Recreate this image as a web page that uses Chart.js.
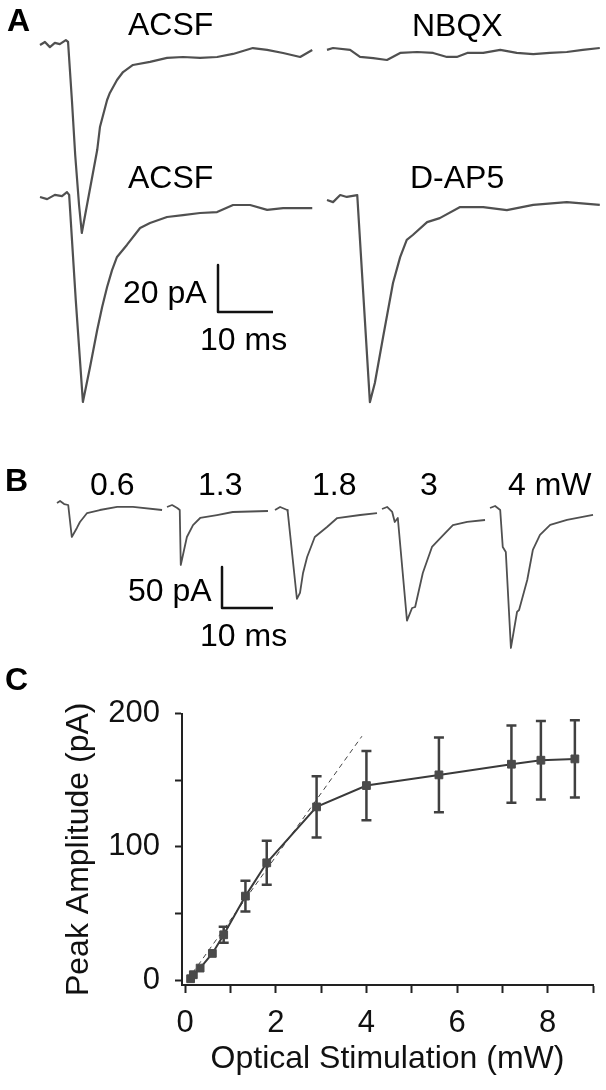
<!DOCTYPE html>
<html>
<head>
<meta charset="utf-8">
<script src="https://cdn.jsdelivr.net/npm/chart.js@4/dist/chart.umd.min.js"></script>
<style>
  html, body { margin: 0; padding: 0; background: #fff; }
  #fig { position: relative; width: 606px; height: 1090px; overflow: hidden; background: #fff; }
  #fig canvas { position: absolute; }
  .lbl { position: absolute; font-family: "Liberation Sans", Arial, Helvetica, sans-serif; font-size: 32px; line-height: 32px; color: #000; white-space: nowrap; }
  .pan { position: absolute; font-family: "Liberation Sans", Arial, Helvetica, sans-serif; font-size: 32px; line-height: 32px; font-weight: bold; color: #000; }
</style>
</head>
<body>
<div id="fig">
  <div class="pan" style="left:7px;top:4px">A</div>
  <div class="pan" style="left:5px;top:464px">B</div>
  <div class="pan" style="left:5px;top:663px">C</div>

  <div class="lbl" style="left:128px;top:8px">ACSF</div>
  <div class="lbl" style="left:412px;top:9px">NBQX</div>
  <div class="lbl" style="left:128px;top:161px">ACSF</div>
  <div class="lbl" style="left:410px;top:161px">D-AP5</div>
  <div class="lbl" style="left:123px;top:276px">20 pA</div>
  <div class="lbl" style="left:200px;top:323px">10 ms</div>

  <div class="lbl" style="left:90px;top:468px">0.6</div>
  <div class="lbl" style="left:198px;top:468px">1.3</div>
  <div class="lbl" style="left:312px;top:468px">1.8</div>
  <div class="lbl" style="left:420px;top:468px">3</div>
  <div class="lbl" style="left:508px;top:468px">4 mW</div>
  <div class="lbl" style="left:128px;top:574px">50 pA</div>
  <div class="lbl" style="left:200px;top:619px">10 ms</div>
</div>
<script>
// ---------------- DATA ----------------
// Panel A traces: [time (ms), current (pA)] relative to each trace's baseline
const traceA_ACSF1 = [[0,0],[0.9,1.3],[1.8,-0.9],[2.7,0.9],[3.6,0.4],[4.7,2.1],[5.1,1.3],[5.8,-23.4],[6.4,-46.8],[7.1,-68.1],[7.6,-80],[10.4,-44.7],[10.9,-34.9],[12.2,-23.4],[12.7,-20.4],[14.0,-14.9],[15.1,-11.5],[16.9,-8.5],[20,-7.2],[23.1,-5.5],[26,-5.1],[29.1,-5.5],[32.2,-5.1],[35.1,-3.8],[38.7,-1.3],[41.3,-2.1],[44.2,-3.4],[47.3,-5.1],[49.5,-2.1]];
const traceA_NBQX  = [[0,0.9],[1.1,1.7],[4.2,0.9],[6,-2.1],[8.4,-2.6],[10.9,-3.4],[13.3,-0.4],[16.4,0],[19.3,-0.4],[21.8,-2.1],[23.6,-2.1],[25.5,-0.4],[28.4,-0.4],[31.5,0.9],[34.5,-0.4],[37.5,-0.9],[40.5,-0.4],[43.6,0],[46.5,0.9],[49.6,1.7]];
const traceA_ACSF2 = [[0,0],[1.3,-0.9],[2.7,0.9],[4,0.4],[4.9,2.1],[5.3,0.9],[6.5,-43.8],[7.8,-87.2],[9.1,-72.3],[10.4,-56.6],[11.3,-46.8],[12.2,-38.3],[13.1,-31.1],[14.0,-25.5],[15.8,-20.4],[18.2,-13.2],[20,-11.1],[23.1,-8.5],[26,-7.7],[29.1,-6.8],[32.2,-6.4],[35.1,-3.4],[38.2,-3.4],[41.3,-5.5],[44.2,-4.7],[49.5,-4.7]];
const traceA_DAP5  = [[0,0],[1.1,-0.9],[2.4,2.1],[3.6,1.3],[5.5,2.1],[7.8,-86],[8.7,-77.9],[10.2,-58.3],[12,-35.3],[13.3,-24.3],[14.5,-17],[15.6,-14.9],[18.2,-9.4],[20.5,-7.7],[24.2,-3],[28.4,-3],[32.7,-4.3],[37.5,-2.1],[43.6,-0.9],[49.6,-2.1]];
// Panel B traces at increasing light power
const traceB_06 = [[0,2.4],[0.6,4.9],[1.4,1.2],[2.2,0],[2.9,-39],[3.9,-28],[4.5,-20.7],[5.9,-9.8],[8.4,-6.1],[11.8,-2.4],[14.9,-2.4],[20.6,-6.1]];
const traceB_13 = [[0,0],[1,2.4],[2,-1.2],[2.5,-3.7],[2.7,-70.7],[3.9,-36.6],[5.1,-22],[6.5,-13.4],[9.8,-9.8],[12.9,-6.1],[19.8,-4.9]];
const traceB_18 = [[0,0],[1,3.7],[2.4,0],[2.5,-2.4],[4.3,-108.5],[4.9,-101],[5.5,-76.8],[6.3,-57.3],[7.8,-32.9],[10.2,-20.7],[12.2,-9.8],[16.7,-6.1],[20,-3.7]];
const traceB_3  = [[0,1.2],[1,3.7],[2,-2.4],[2.5,-14.6],[3.1,-9.8],[4.9,-135],[5.9,-119.5],[6.5,-118.3],[8,-76.8],[9.8,-45.1],[12,-30.5],[13.9,-18.3],[16.7,-14.6],[20.2,-12.2]];
const traceB_4  = [[0,0],[1,2.4],[2,-2.4],[2.5,-47.6],[3.1,-53.7],[4.1,-170.7],[5.3,-126.8],[5.7,-124.4],[7.3,-87.8],[8.4,-51.2],[9.8,-32.9],[11.8,-20.7],[15.1,-14.6],[20.2,-8.5]];
// Scale bars
const scaleBarA = [[0,20],[0,0],[10,0]];   // 20 pA, 10 ms
const scaleBarB = [[0,50],[0,0],[10,0]];   // 50 pA, 10 ms
// Panel C: input-output curve
const stimMW = [0.12,0.18,0.33,0.6,0.85,1.33,1.8,2.9,4.0,5.6,7.2,7.85,8.6];
const peakPA = [1,4,9,20,34,63,88,130,146,154,162,165,166];
const semPA  = [1,1.5,2,3,6,11.5,16.5,23,26,28,29,29.5,29];
const fitMW  = [0.05,3.9];
const fitPA  = [0,183];
const xTickValues = [0,1,2,3,4,5,6,7,8,9];
const xTickLabels = [0,2,4,6,8];
const yTickValues = [0,50,100,150,200];
const yTickLabels = [0,100,200];

// ---------------- DRAWING ----------------
const FONT = '"Liberation Sans", Arial, Helvetica, sans-serif';
const fig = document.getElementById('fig');

function makeCanvas(top, height) {
  const c = document.createElement('canvas');
  c.width = 606; c.height = height;
  c.style.left = '0px'; c.style.top = top + 'px';
  c.style.width = '606px'; c.style.height = height + 'px';
  fig.insertBefore(c, fig.firstChild);
  return c;
}

// A trace drawn on a panel-wide canvas; origin = page position of (0 ms, 0 pA)
function traceChart(points, panelTop, panelH, ox, oy, pxPerMs, pxPerPA, color, width) {
  const c = makeCanvas(panelTop, panelH);
  new Chart(c, {
    type: 'line',
    data: { datasets: [{
      data: points.map(p => ({x: p[0], y: p[1]})),
      borderColor: color, borderWidth: width, pointRadius: 0, tension: 0,
      borderJoinStyle: 'round', borderCapStyle: 'butt', fill: false
    }]},
    options: {
      responsive: false, animation: false, events: [],
      layout: { padding: 0, autoPadding: false },
      plugins: { legend: {display: false}, tooltip: {enabled: false} },
      scales: {
        x: { type: 'linear', display: false, min: -ox / pxPerMs, max: (606 - ox) / pxPerMs },
        y: { type: 'linear', display: false, min: (oy - panelTop - panelH) / pxPerPA, max: (oy - panelTop) / pxPerPA }
      }
    }
  });
}

const TR = '#505050';
// Panel A: 5.5 px per ms, 2.35 px per pA
traceChart(traceA_ACSF2, 0, 430, 40, 197, 5.5, 2.35, TR, 2.2);
traceChart(traceA_DAP5, 0, 430, 327, 200, 5.5, 2.35, TR, 2.2);
traceChart(traceA_ACSF1, 0, 430, 40, 45, 5.5, 2.35, TR, 2.2);
traceChart(traceA_NBQX, 0, 430, 327, 52, 5.5, 2.35, TR, 2.2);
traceChart(scaleBarA, 0, 430, 218, 312, 5.5, 2.35, '#111', 2.5);
// Panel B: 5.1 px per ms, 0.82 px per pA
traceChart(traceB_06, 440, 240, 57, 505, 5.1, 0.82, TR, 1.8);
traceChart(traceB_13, 440, 240, 167, 507, 5.1, 0.82, TR, 1.8);
traceChart(traceB_18, 440, 240, 275, 510, 5.1, 0.82, TR, 1.8);
traceChart(traceB_3, 440, 240, 382, 510, 5.1, 0.82, TR, 1.8);
traceChart(traceB_4, 440, 240, 490, 508, 5.1, 0.82, TR, 1.8);
traceChart(scaleBarB, 440, 240, 222, 608, 5.1, 0.82, '#111', 2.5);

// Panel C
const errorBars = {
  id: 'errorBars',
  beforeDatasetsDraw(chart) {
    const {ctx, scales: {x, y}} = chart;
    ctx.save();
    ctx.strokeStyle = '#404040';
    ctx.lineWidth = 2.5;
    stimMW.forEach((m, i) => {
      const px = x.getPixelForValue(m);
      const top = y.getPixelForValue(peakPA[i] + semPA[i]);
      const bot = y.getPixelForValue(peakPA[i] - semPA[i]);
      if (bot - top < 10) return;
      ctx.beginPath();
      ctx.moveTo(px, top); ctx.lineTo(px, bot);
      ctx.moveTo(px - 5, top); ctx.lineTo(px + 5, top);
      ctx.moveTo(px - 5, bot); ctx.lineTo(px + 5, bot);
      ctx.stroke();
    });
    ctx.restore();
  }
};

const cC = makeCanvas(680, 410);
new Chart(cC, {
  type: 'line',
  data: { datasets: [
    { data: stimMW.map((m, i) => ({x: m, y: peakPA[i]})),
      borderColor: '#3a3a3a', borderWidth: 2, tension: 0,
      pointStyle: 'rect', pointRadius: 5.5, pointBorderWidth: 1,
      pointBackgroundColor: '#4a4a4a', pointBorderColor: '#4a4a4a', order: 1 },
    { data: fitMW.map((m, i) => ({x: m, y: fitPA[i]})),
      borderColor: '#444', borderWidth: 1, borderDash: [5, 4], pointRadius: 0, tension: 0, order: 2 }
  ]},
  options: {
    responsive: false, animation: false, events: [],
    layout: { padding: {left: 0, right: 13, top: 32, bottom: 0}, autoPadding: false },
    plugins: { legend: {display: false}, tooltip: {enabled: false} },
    scales: {
      x: {
        type: 'linear', min: -0.07, max: 9,
        afterFit(s) { s.height = 105; },
        afterBuildTicks(s) { s.ticks = xTickValues.map(v => ({value: v})); },
        ticks: { callback: v => xTickLabels.includes(v) ? String(v) : '', font: {family: FONT, size: 31}, color: '#111', padding: 12, maxRotation: 0, autoSkip: false },
        grid: { drawOnChartArea: false, drawTicks: true, tickLength: 8, tickWidth: 2, tickColor: '#222' },
        border: { display: true, color: '#222', width: 2 },
        title: { display: true, text: 'Optical Stimulation (mW)', font: {family: FONT, size: 32}, color: '#111', padding: {top: 0, bottom: 12} }
      },
      y: {
        type: 'linear', min: -3.7, max: 200,
        afterFit(s) { s.width = 182; },
        afterBuildTicks(s) { s.ticks = yTickValues.map(v => ({value: v})); },
        ticks: { callback: v => yTickLabels.includes(v) ? String(v) : '', font: {family: FONT, size: 31}, color: '#111', padding: 15, autoSkip: false },
        grid: { drawOnChartArea: false, drawTicks: true, tickLength: 7, tickWidth: 2, tickColor: '#222' },
        border: { display: true, color: '#222', width: 2 },
        title: { display: true, text: 'Peak Amplitude (pA)', font: {family: FONT, size: 32}, color: '#111', padding: {top: 60, bottom: 0} }
      }
    }
  },
  plugins: [errorBars]
});
</script>
</body>
</html>
